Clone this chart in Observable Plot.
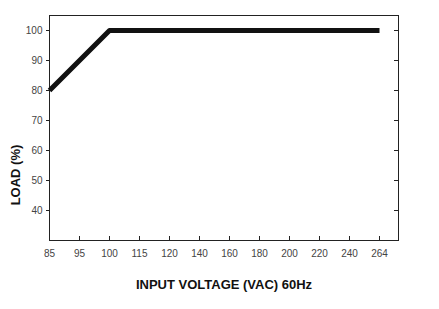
<!DOCTYPE html>
<html>
<head>
<meta charset="utf-8">
<script src="https://cdn.jsdelivr.net/npm/d3@7"></script>
<script src="https://cdn.jsdelivr.net/npm/@observablehq/plot@0.6"></script>
<style>
  body { margin: 0; background: #fff; }
  svg { font-family: "Liberation Sans", Arial, sans-serif; }
</style>
</head>
<body>
<div id="chart"></div>
<script>
const xTicks = ["85", "95", "100", "115", "120", "140", "160", "180", "200", "220", "240", "264"];
const yTicks = [40, 50, 60, 70, 80, 90, 100];
const voltage = ["85", "100", "264"];
const load = [80, 100, 100];
const xTitle = "INPUT VOLTAGE (VAC) 60Hz";
const yTitle = "LOAD (%)";

// x positions are category indices (ticks are evenly spaced)
const data = voltage.map((v, i) => ({x: xTicks.indexOf(v), load: load[i]}));
const xIdx = xTicks.map((_, i) => i);

const chart = Plot.plot({
  width: 439,
  height: 309,
  marginLeft: 49,
  marginRight: 41,
  marginTop: 15,
  marginBottom: 69,
  style: {background: "#fff", fontSize: "10px", color: "#333"},
  x: {type: "linear", domain: [0, 11.633]},
  y: {domain: [30, 105]},
  marks: [
    Plot.frame({stroke: "#222", strokeWidth: 1}),
    Plot.axisY(yTicks, {tickSize: 3, tickPadding: 4, label: null, stroke: "#222", fill: "#444", fontSize: 10}),
    Plot.axisX(xIdx, {tickSize: 0, tickPadding: 9, label: null, tickFormat: i => xTicks[i], fill: "#444", fontSize: 10}),
    Plot.tickX(xIdx.slice(1), {x: d => d, insetTop: 221, stroke: "#222"}),
    Plot.tickY(yTicks, {y: d => d, insetLeft: 345, stroke: "#222"}),
    Plot.line(data, {x: "x", y: "load", stroke: "#111", strokeWidth: 5, strokeLinejoin: "round", strokeLinecap: "butt"}),
    Plot.text([xTitle], {text: d => d, frameAnchor: "bottom", dy: 48, fontSize: 13, fontWeight: "bold", fill: "#111"}),
    Plot.text([yTitle], {text: d => d, frameAnchor: "left", textAnchor: "middle", dx: -34, dy: 47, rotate: -90, fontSize: 13, fontWeight: "bold", fill: "#111"})
  ]
});
document.getElementById("chart").appendChild(chart);
</script>
</body>
</html>
